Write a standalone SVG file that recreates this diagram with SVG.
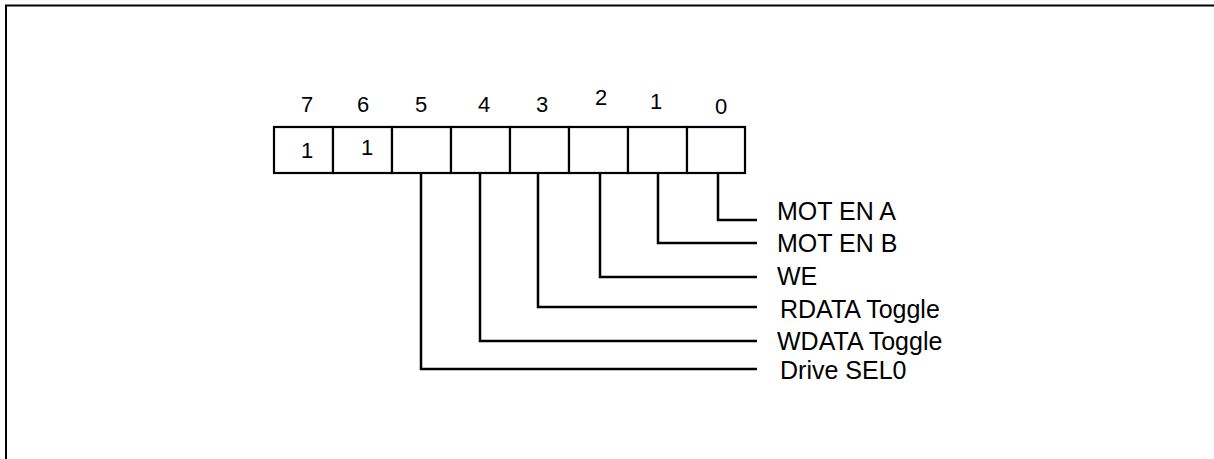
<svg xmlns="http://www.w3.org/2000/svg" width="1214" height="459" viewBox="0 0 1214 459">
<style>
.frame{fill:none;stroke:#000;stroke-width:2}
.cell{fill:#fff;stroke:#000;stroke-width:2.2}
.wire{fill:none;stroke:#000;stroke-width:2.5}
.num{font-family:"Liberation Sans",Arial,sans-serif;font-size:22px;fill:#000;text-anchor:middle}
.lbl{font-family:"Liberation Sans",Arial,sans-serif;font-size:25px;fill:#000}
</style>
<rect width="1214" height="459" fill="#fff"/>
<path class="frame" d="M6,459 V5.5 H1214"/>
<g id="register">
<rect class="cell" x="274" y="127" width="59" height="46"/>
<rect class="cell" x="333" y="127" width="59" height="46"/>
<rect class="cell" x="392" y="127" width="59" height="46"/>
<rect class="cell" x="451" y="127" width="59" height="46"/>
<rect class="cell" x="510" y="127" width="59" height="46"/>
<rect class="cell" x="569" y="127" width="59" height="46"/>
<rect class="cell" x="628" y="127" width="59" height="46"/>
<rect class="cell" x="687" y="127" width="58" height="46"/>
<text class="num" x="307" y="158">1</text>
<text class="num" x="367" y="155">1</text>
</g>
<g id="bit-numbers">
<text class="num" x="307" y="112">7</text>
<text class="num" x="363" y="112">6</text>
<text class="num" x="421" y="112">5</text>
<text class="num" x="484" y="112">4</text>
<text class="num" x="542" y="112">3</text>
<text class="num" x="601" y="105">2</text>
<text class="num" x="656" y="109">1</text>
<text class="num" x="721" y="114">0</text>
</g>
<g id="connectors">
<path class="wire" d="M718,173 V220 H757"/>
<path class="wire" d="M658,173 V243 H757"/>
<path class="wire" d="M600,173 V277 H757"/>
<path class="wire" d="M538,173 V307 H757"/>
<path class="wire" d="M480,173 V341 H757"/>
<path class="wire" d="M421,173 V369 H757"/>
</g>
<g id="labels">
<text class="lbl" x="777" y="220">MOT EN A</text>
<text class="lbl" x="777" y="252">MOT EN B</text>
<text class="lbl" x="777" y="285">WE</text>
<text class="lbl" x="780" y="318">RDATA Toggle</text>
<text class="lbl" x="777" y="350">WDATA Toggle</text>
<text class="lbl" x="780" y="379">Drive SEL0</text>
</g>
</svg>
